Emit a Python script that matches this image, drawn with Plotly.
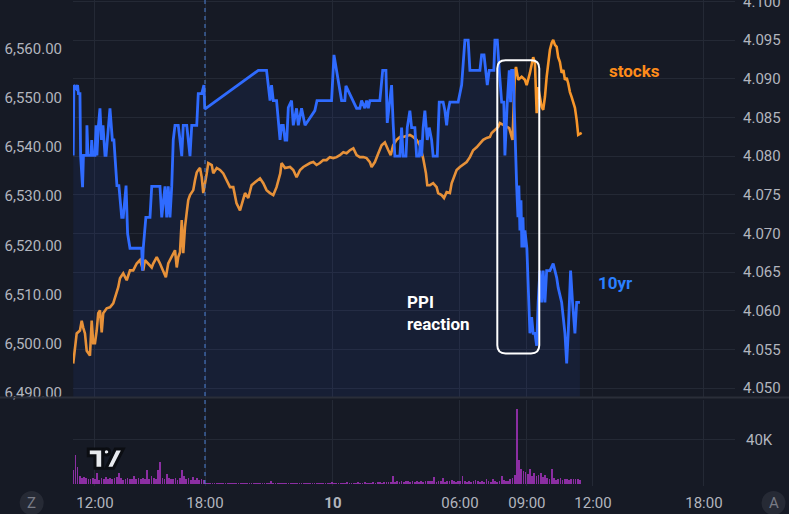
import plotly.graph_objects as go

# ---------------- data (time axis = session hours since 11:00, 17-18h gap removed) ----------------
STOCKS_PTS = [
    (0.00, 6496.0), (0.08, 6498.6), (0.16, 6502.1), (0.31, 6502.7), (0.39, 6504.7), (0.46, 6503.3),
    (0.54, 6502.1), (0.62, 6498.6), (0.77, 6497.6), (0.85, 6504.7), (0.92, 6500.1), (1.00, 6500.1),
    (1.08, 6502.7), (1.15, 6506.2), (1.23, 6506.8), (1.31, 6502.3), (1.38, 6506.2), (1.54, 6507.2),
    (1.69, 6507.4), (1.84, 6508.2), (1.92, 6509.4), (2.07, 6511.5), (2.15, 6513.3), (2.30, 6514.3),
    (2.46, 6512.9), (2.61, 6514.9), (2.76, 6514.9), (2.92, 6516.3), (3.07, 6517.0), (3.22, 6514.9),
    (3.30, 6517.0), (3.45, 6516.3), (3.61, 6515.5), (3.68, 6516.3), (3.84, 6517.6), (3.99, 6516.3),
    (4.14, 6514.9), (4.26, 6513.5), (4.37, 6516.3), (4.53, 6517.6), (4.68, 6519.0), (4.76, 6515.5),
    (4.83, 6517.6), (4.91, 6518.6), (4.99, 6525.1), (5.06, 6518.4), (5.14, 6523.7), (5.22, 6526.7),
    (5.29, 6529.2), (5.37, 6530.2), (5.52, 6531.2), (5.60, 6533.2), (5.68, 6534.8), (5.75, 6535.3),
    (5.83, 6535.7), (5.91, 6533.8), (5.98, 6530.6), (6.14, 6534.6), (6.21, 6536.7), (6.37, 6536.3),
    (6.44, 6534.6), (6.60, 6535.7), (6.75, 6535.3), (6.90, 6534.6), (7.06, 6533.2), (7.21, 6531.8),
    (7.36, 6531.8), (7.51, 6528.5), (7.67, 6527.1), (7.82, 6529.2), (7.90, 6530.6), (8.05, 6529.6),
    (8.20, 6532.2), (8.36, 6532.8), (8.59, 6533.6), (8.74, 6532.6), (8.89, 6531.2), (9.05, 6530.6),
    (9.20, 6530.2), (9.35, 6531.8), (9.52, 6534.6), (9.58, 6536.7), (9.74, 6535.7), (9.97, 6535.9),
    (10.12, 6535.3), (10.27, 6533.8), (10.43, 6535.3), (10.58, 6535.9), (10.73, 6536.3), (10.89, 6536.7),
    (11.04, 6536.9), (11.19, 6536.3), (11.34, 6536.7), (11.50, 6537.3), (11.65, 6537.3), (11.80, 6537.9),
    (11.96, 6537.7), (12.11, 6537.9), (12.26, 6538.3), (12.42, 6538.9), (12.57, 6538.7), (12.72, 6539.3),
    (12.88, 6539.7), (13.03, 6538.3), (13.18, 6537.9), (13.34, 6537.9), (13.49, 6537.7), (13.64, 6536.9),
    (13.72, 6535.9), (13.87, 6536.9), (14.03, 6538.7), (14.18, 6540.3), (14.33, 6540.9), (14.41, 6539.9),
    (14.49, 6539.3), (14.60, 6538.3), (14.71, 6540.3), (14.87, 6541.4), (15.02, 6542.0), (15.17, 6542.0),
    (15.33, 6542.2), (15.48, 6542.4), (15.63, 6542.0), (15.79, 6541.4), (15.94, 6540.3), (16.09, 6537.7),
    (16.22, 6534.6), (16.28, 6532.2), (16.40, 6532.2), (16.55, 6532.6), (16.71, 6531.8), (16.78, 6530.6),
    (16.94, 6530.2), (17.05, 6529.6), (17.17, 6530.8), (17.32, 6530.6), (17.40, 6532.6), (17.51, 6533.8),
    (17.63, 6535.3), (17.78, 6535.9), (17.93, 6536.3), (18.09, 6536.9), (18.24, 6537.9), (18.39, 6539.3),
    (18.55, 6539.9), (18.70, 6540.7), (18.85, 6541.4), (19.01, 6541.8), (19.16, 6542.0), (19.24, 6542.8),
    (19.39, 6543.4), (19.54, 6544.0), (19.62, 6544.8), (19.77, 6544.4), (19.93, 6544.0), (20.05, 6543.8),
    (20.11, 6542.8), (20.20, 6541.4), (20.31, 6555.2), (20.36, 6556.2), (20.46, 6553.6), (20.62, 6554.2),
    (20.77, 6553.6), (20.85, 6552.5), (21.00, 6555.0), (21.15, 6558.2), (21.23, 6557.0), (21.31, 6546.8),
    (21.38, 6552.1), (21.46, 6550.1), (21.54, 6548.1), (21.61, 6547.5), (21.69, 6550.1), (21.77, 6554.2),
    (21.84, 6557.0), (21.92, 6559.7), (22.00, 6561.1), (22.07, 6561.7), (22.15, 6560.7), (22.23, 6560.3),
    (22.30, 6558.2), (22.38, 6557.2), (22.46, 6555.0), (22.54, 6555.6), (22.61, 6553.6), (22.69, 6554.0),
    (22.76, 6552.9), (22.84, 6551.1), (22.92, 6550.1), (22.99, 6549.1), (23.07, 6547.9), (23.15, 6545.4),
    (23.22, 6542.4), (23.38, 6542.8),
]

YIELD_PTS = [
    (0.00, 4.0801), (0.03, 4.0892), (0.13, 4.0888), (0.20, 4.0892), (0.24, 4.0881), (0.31, 4.0881),
    (0.34, 4.0801), (0.43, 4.0760), (0.47, 4.0801), (0.62, 4.0801), (0.63, 4.0840), (0.68, 4.0801),
    (0.82, 4.0801), (0.85, 4.0821), (0.89, 4.0801), (1.00, 4.0801), (1.05, 4.0840), (1.09, 4.0801),
    (1.16, 4.0840), (1.23, 4.0862), (1.30, 4.0821), (1.37, 4.0840), (1.46, 4.0801), (1.51, 4.0801),
    (1.69, 4.0862), (1.80, 4.0821), (1.87, 4.0821), (2.01, 4.0762), (2.10, 4.0762), (2.23, 4.0721),
    (2.30, 4.0721), (2.43, 4.0762), (2.50, 4.0700), (2.61, 4.0681), (3.15, 4.0681), (3.18, 4.0652),
    (3.22, 4.0681), (3.34, 4.0721), (3.53, 4.0721), (3.61, 4.0761), (3.99, 4.0761), (4.07, 4.0721),
    (4.22, 4.0761), (4.30, 4.0721), (4.37, 4.0761), (4.45, 4.0721), (4.53, 4.0761), (4.60, 4.0821),
    (4.68, 4.0840), (4.83, 4.0840), (4.91, 4.0821), (4.99, 4.0800), (5.06, 4.0840), (5.22, 4.0840),
    (5.37, 4.0800), (5.45, 4.0840), (5.68, 4.0840), (5.75, 4.0881), (5.91, 4.0881), (6.01, 4.0892),
    (6.05, 4.0861), (8.51, 4.0911), (8.89, 4.0911), (9.05, 4.0872), (9.12, 4.0892), (9.20, 4.0872),
    (9.35, 4.0872), (9.43, 4.0840), (9.51, 4.0821), (9.58, 4.0840), (9.66, 4.0840), (9.74, 4.0821),
    (9.82, 4.0821), (9.89, 4.0863), (10.04, 4.0872), (10.12, 4.0840), (10.27, 4.0862), (10.35, 4.0840),
    (10.50, 4.0862), (10.66, 4.0840), (11.11, 4.0859), (11.21, 4.0872), (11.88, 4.0872), (11.99, 4.0931),
    (12.11, 4.0911), (12.22, 4.0892), (12.34, 4.0872), (12.49, 4.0872), (12.54, 4.0891), (13.03, 4.0862),
    (13.18, 4.0862), (13.26, 4.0872), (13.41, 4.0862), (13.49, 4.0872), (13.57, 4.0862), (13.64, 4.0872),
    (14.10, 4.0872), (14.23, 4.0911), (14.38, 4.0911), (14.44, 4.0843), (14.56, 4.0870), (14.64, 4.0892),
    (14.71, 4.0843), (14.79, 4.0800), (15.02, 4.0800), (15.10, 4.0837), (15.17, 4.0800), (15.30, 4.0800),
    (15.36, 4.0837), (15.48, 4.0859), (15.56, 4.0837), (15.71, 4.0837), (15.79, 4.0800), (15.91, 4.0800),
    (15.97, 4.0821), (16.02, 4.0800), (16.09, 4.0837), (16.17, 4.0859), (16.28, 4.0821), (16.37, 4.0837),
    (16.48, 4.0821), (16.55, 4.0800), (16.74, 4.0800), (16.83, 4.0870), (17.01, 4.0870), (17.09, 4.0859),
    (17.17, 4.0840), (17.24, 4.0859), (17.32, 4.0870), (17.70, 4.0870), (17.86, 4.0892), (18.01, 4.0950),
    (18.16, 4.0950), (18.24, 4.0911), (18.70, 4.0911), (18.78, 4.0931), (18.89, 4.0931), (18.98, 4.0911),
    (19.04, 4.0892), (19.13, 4.0911), (19.34, 4.0911), (19.39, 4.0950), (19.50, 4.0950), (19.59, 4.0911),
    (19.70, 4.0870), (19.80, 4.0870), (19.85, 4.0801), (19.96, 4.0870), (20.05, 4.0911), (20.11, 4.0870),
    (20.16, 4.0911), (20.23, 4.0911), (20.31, 4.0817), (20.39, 4.0762), (20.45, 4.0721), (20.49, 4.0762),
    (20.54, 4.0704), (20.59, 4.0743), (20.63, 4.0682), (20.68, 4.0721), (20.72, 4.0682), (20.77, 4.0704),
    (20.86, 4.0681), (20.92, 4.0636), (21.00, 4.0571), (21.08, 4.0592), (21.15, 4.0571), (21.23, 4.0571),
    (21.31, 4.0555), (21.38, 4.0611), (21.46, 4.0652), (21.54, 4.0611), (21.61, 4.0652), (21.69, 4.0611),
    (21.77, 4.0652), (21.92, 4.0652), (22.07, 4.0661), (22.15, 4.0652), (22.23, 4.0643), (22.30, 4.0630),
    (22.46, 4.0611), (22.61, 4.0571), (22.69, 4.0532), (22.76, 4.0571), (22.87, 4.0652), (22.96, 4.0611),
    (23.07, 4.0571), (23.15, 4.0611), (23.30, 4.0611),
]

# volume, thousands of contracts, one bar every 0.1 session hour starting at 0.0
VOL_K = [
    13, 26, 16, 8, 6, 7, 6, 5, 4.5, 6,
    5, 10, 4, 6, 5, 7, 5, 6, 4.5, 6,
    7, 10, 6, 4, 5, 6, 5, 4.5, 8, 5,
    6, 4.5, 6, 5, 13, 4.5, 8, 6, 5, 13,
    20, 6, 5, 9, 6, 4.5, 5, 6, 4, 6,
    13, 8, 4.5, 6, 4, 7, 4, 6, 4, 5,
    4, 1.5, 1, 1, 1.2, 1, 1, 1.3, 1, 1,
    1.5, 1, 1.2, 1, 1, 1.4, 1, 1, 1.2, 1,
    1, 1.3, 1, 1, 1.5, 1, 1.2, 1, 1, 1.3,
    1, 3, 1.2, 1, 1.4, 1, 1, 1.2, 1, 1.5,
    1, 1.2, 1, 1.3, 1, 1, 1.4, 1, 1.2, 1,
    1.3, 1, 1.2, 1, 1.5, 1, 1.2, 1, 1.2, 2.5,
    1.4, 1.2, 1.6, 1.3, 1.5, 1.2, 1.8, 1.4, 1.3, 1.6,
    1.5, 1.8, 1.4, 1.6, 2, 1.5, 1.7, 1.4, 2, 1.6,
    1.8, 2, 1.6, 2.2, 1.8, 2, 2.5, 8, 2, 3,
    2.5, 3, 2.2, 3.5, 2.8, 2.5, 3, 2.4, 3.2, 2.6,
    3, 2.5, 3.5, 2.8, 3, 3.2, 7, 2.6, 3.2, 2.8,
    5.5, 2.6, 3.5, 2.8, 4, 3, 2.5, 3.4, 3, 7.5,
    3, 2.5, 3.5, 2.6, 3, 4, 2.8, 2.2, 3.5, 2.6,
    4.5, 3, 2.6, 5.3, 3, 2.5, 3.5, 8, 4, 3,
    3, 5, 6, 8.5, 67.5, 22, 14, 12, 11, 9,
    13.6, 7.5, 10, 7.5, 8.5, 10, 6.5, 8.5, 6, 5,
    14, 6, 4.4, 5, 6, 4.4, 5, 5.3, 3.9, 4.5,
    5.3, 4.5, 4.9, 4.4,
]
VOL_T = [round(0.1 * i, 1) for i in range(len(VOL_K))]

TICK_POS = [1.0, 6.06, 11.94, 17.78, 20.86, 23.9, 29.0]
TICK_TXT = ["12:00", "18:00", "<b>10</b>", "06:00", "09:00", "12:00", "18:00"]
SESSION_BREAK = 6.06
PRICE_TICKS = [6490, 6500, 6510, 6520, 6530, 6540, 6550, 6560]
YIELD_TICKS = [4.050, 4.055, 4.060, 4.065, 4.070, 4.075, 4.080, 4.085, 4.090, 4.095, 4.100]
PPI_BOX = dict(t0=19.5, t1=21.43, y0=4.0545, y1=4.0924)

st_t = [p[0] for p in STOCKS_PTS]
st_v = [p[1] for p in STOCKS_PTS]
yl_t = [p[0] for p in YIELD_PTS]
yl_v = [p[1] for p in YIELD_PTS]

# ---------------- layout geometry ----------------
W, H = 789, 514
ML, MR, MT, MB = 73, 54, 0, 28
PW, PH = W - ML - MR, H - MT - MB
BG = "#161a25"
GRID = "#242935"
TXT = "#b2b5be"
FONT = "Roboto"


def P(px, py):
    return (px - ML) / PW, (PH + MT - py) / PH


main_bottom = P(0, 397.5)[1]
vol_top = P(0, 399.5)[1]

fig = go.Figure()

fig.add_trace(go.Scatter(x=yl_t, y=yl_v, yaxis="y2", mode="lines", fill="tozeroy",
                         fillcolor="rgba(41,98,255,0.075)", line=dict(width=0),
                         hoverinfo="skip", showlegend=False))
fig.add_trace(go.Scatter(x=st_t, y=st_v, yaxis="y", mode="lines",
                         line=dict(color="#f7962a", width=2.6), showlegend=False))
fig.add_trace(go.Scatter(x=yl_t, y=yl_v, yaxis="y2", mode="lines",
                         line=dict(color="#2f6bff", width=2.8), showlegend=False))
fig.add_trace(go.Bar(x=VOL_T, y=[v * 1000 for v in VOL_K], yaxis="y3", width=0.08,
                     marker=dict(color="rgba(160,50,185,0.85)", line=dict(width=0)),
                     showlegend=False))

axfont = dict(family=FONT, size=15, color=TXT)
fig.update_layout(
    width=W, height=H, margin=dict(l=ML, r=MR, t=MT, b=MB, autoexpand=False),
    paper_bgcolor=BG, plot_bgcolor=BG, bargap=0,
    xaxis=dict(domain=[0, 1], range=[-0.01, 30.43], anchor="y3", tickvals=TICK_POS,
               ticktext=TICK_TXT, showgrid=True, gridcolor=GRID, gridwidth=1, zeroline=False,
               showline=False, ticks="", tickfont=axfont, ticklabelstandoff=6, automargin=False),
    yaxis=dict(domain=[main_bottom, 1], range=[6489.1, 6569.8], side="left", anchor="x",
               tickvals=PRICE_TICKS, tickformat=",.2f", showgrid=False, zeroline=False,
               showline=False, ticks="", tickfont=axfont, ticklabelstandoff=10,
               ticklabeloverflow="allow", automargin=False),
    yaxis2=dict(overlaying="y", side="right", anchor="x", range=[4.0488, 4.1002],
                tickvals=YIELD_TICKS, tickformat=".3f", ticksuffix="%", showgrid=True,
                gridcolor=GRID, zeroline=False, showline=False, ticks="", tickfont=axfont,
                ticklabelstandoff=7, ticklabeloverflow="allow", automargin=False),
    yaxis3=dict(domain=[0, vol_top], side="right", anchor="x", range=[-1800, 75600],
                tickvals=[40000], ticktext=["40K"], showgrid=True, gridcolor=GRID,
                zeroline=False, showline=False, ticks="", tickfont=axfont, ticklabelstandoff=10,
                automargin=False),
)

shapes = []
# pane separator
x0, ys = P(0, 397.5)
x1, _ = P(W, 397.5)
shapes.append(dict(type="line", xref="paper", yref="paper", x0=x0, x1=x1, y0=ys, y1=ys,
                   line=dict(color="#2a2e39", width=2), layer="above"))
# session break dashed line
shapes.append(dict(type="line", xref="x", yref="paper", x0=SESSION_BREAK, x1=SESSION_BREAK,
                   y0=P(0, 484)[1], y1=1, line=dict(color="#4a80d4", width=1, dash="4px,4px")))

# PPI highlight rounded box (data coordinates)
b = PPI_BOX
rx, ry = 0.38, 0.00105
path = (f"M {b['t0']+rx},{b['y1']} L {b['t1']-rx},{b['y1']} Q {b['t1']},{b['y1']} {b['t1']},{b['y1']-ry} "
        f"L {b['t1']},{b['y0']+ry} Q {b['t1']},{b['y0']} {b['t1']-rx},{b['y0']} "
        f"L {b['t0']+rx},{b['y0']} Q {b['t0']},{b['y0']} {b['t0']},{b['y0']+ry} "
        f"L {b['t0']},{b['y1']-ry} Q {b['t0']},{b['y1']} {b['t0']+rx},{b['y1']} Z")
shapes.append(dict(type="path", xref="x", yref="y2", path=path,
                   line=dict(color="white", width=2), layer="above"))


def ppath(pts):
    s = ""
    for i, (px, py) in enumerate(pts):
        X, Y = P(px, py)
        s += ("M " if i == 0 else "L ") + f"{X:.5f},{Y:.5f} "
    return s + "Z"


# TradingView-style logo
logo_line = dict(color="#0b0d12", width=3)
logo_fill = "#e8eaee"
shapes.append(dict(type="path", xref="paper", yref="paper", fillcolor=logo_fill, line=logo_line,
                   path=ppath([(88.3, 449), (102.7, 449), (102.7, 468.3), (95, 468.3), (95, 455.7), (88.3, 455.7)])))
shapes.append(dict(type="path", xref="paper", yref="paper", fillcolor=logo_fill, line=logo_line,
                   path=ppath([(106, 468.3), (113.5, 468.3), (123.3, 449), (115.3, 449)])))
cx0, cy0 = P(103.3, 448.7)
cx1, cy1 = P(109.7, 455.1)
shapes.append(dict(type="circle", xref="paper", yref="paper", x0=cx0, x1=cx1, y0=cy1, y1=cy0,
                   fillcolor=logo_fill, line=logo_line))

# Z / A round buttons
for cxp, letter in [(31.7, "Z"), (773.5, "A")]:
    a0, b0 = P(cxp - 12, 491)
    a1, b1 = P(cxp + 12, 515)
    shapes.append(dict(type="circle", xref="paper", yref="paper", x0=a0, x1=a1, y0=b1, y1=b0,
                       fillcolor="#262a35", line=dict(width=0)))

fig.update_layout(shapes=shapes)

ann = []
for cxp, letter in [(31.7, "Z"), (773.5, "A")]:
    ax_, ay_ = P(cxp, 503)
    ann.append(dict(x=ax_, y=ay_, xref="paper", yref="paper", text=letter, showarrow=False,
                    font=dict(family=FONT, size=15, color="#787b86"), xanchor="center", yanchor="middle"))
sx, sy = P(634, 71)
ann.append(dict(x=sx, y=sy, xref="paper", yref="paper", text="<b>stocks</b>", showarrow=False,
                font=dict(family=FONT, size=17, color="#ff8c1a"), xanchor="center", yanchor="middle"))
tx, ty = P(615.5, 283)
ann.append(dict(x=tx, y=ty, xref="paper", yref="paper", text="<b>10yr</b>", showarrow=False,
                font=dict(family=FONT, size=17, color="#2a7fff"), xanchor="center", yanchor="middle"))
px_, py_ = P(405, 313)
ann.append(dict(x=px_, y=py_, xref="paper", yref="paper", text="<b>PPI<br>reaction</b>", showarrow=False,
                font=dict(family=FONT, size=17, color="#ffffff"), xanchor="left", yanchor="middle",
                align="left"))
fig.update_layout(annotations=ann)

fig.write_html("out.html", config={"displayModeBar": False})

# remove the default page margin so the figure fills the browser window exactly
with open("out.html", "r", encoding="utf-8") as f:
    html = f.read()
html = html.replace("<head>", "<head><style>html,body{margin:0;padding:0;overflow:hidden;background:#161a25;}</style>", 1)
with open("out.html", "w", encoding="utf-8") as f:
    f.write(html)
